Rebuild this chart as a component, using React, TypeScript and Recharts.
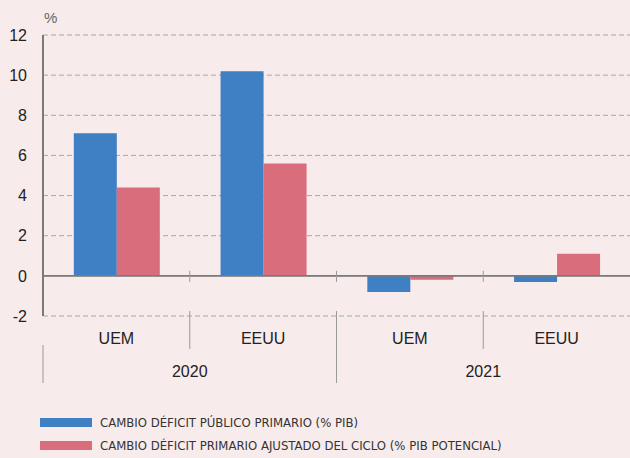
import { Bar, BarChart, CartesianGrid, Legend, ReferenceLine, XAxis, YAxis } from 'recharts';

const categories = ['UEM', 'EEUU', 'UEM', 'EEUU'];
const years = ['2020', '2020', '2021', '2021'];
const publico = [7.1, 10.2, -0.8, -0.3];
const ajustado = [4.4, 5.6, -0.2, 1.1];
const yTicks = [-2, 0, 2, 4, 6, 8, 10, 12];
const seriesNames = [
  'CAMBIO DÉFICIT PÚBLICO PRIMARIO (% PIB)',
  'CAMBIO DÉFICIT PRIMARIO AJUSTADO DEL CICLO (% PIB POTENCIAL)',
];

const W = 630;
const H = 458;
const Y_W = 43;
const BAND = (W - Y_W) / categories.length;
const BLUE = '#3f7fc4';
const PINK = '#d96d7c';
const BG = '#f8ebeb';
const SEP = '#9a9a9a';
const FONT = '"Liberation Sans", Arial, sans-serif';

const data = categories.map((c, i) => ({
  id: `${c}-${years[i]}`,
  cat: c,
  year: years[i],
  publico: publico[i],
  ajustado: ajustado[i],
}));

function CatTick({ x, y, index }: any) {
  const right = x + BAND / 2;
  const last = index >= categories.length - 1;
  const yearEdge = !last && years[index + 1] !== years[index];
  return (
    <g>
      <text x={x} y={y + 28} textAnchor="middle" fontSize={16} fill="#222" fontFamily={FONT}>
        {categories[index]}
      </text>
      {!last && (
        <line x1={right} x2={right} y1={y - 5} y2={yearEdge ? y + 67 : y + 33} stroke={SEP} strokeWidth={1} />
      )}
    </g>
  );
}

function YearTick({ x, y, index }: any) {
  const first = index === 0 || years[index - 1] !== years[index];
  if (!first) return null;
  const count = years.filter((yr) => yr === years[index]).length;
  const cx = x + ((count - 1) * BAND) / 2;
  return (
    <g>
      <text x={cx} y={y + 31} textAnchor="middle" fontSize={16} fill="#222" fontFamily={FONT}>
        {years[index]}
      </text>
      {index === 0 && (
        <line x1={x - BAND / 2} x2={x - BAND / 2} y1={y - 1} y2={y + 37} stroke={SEP} strokeWidth={1} />
      )}
    </g>
  );
}

function ZeroLine(props: any) {
  const { x1, x2, y1 } = props;
  const marks = categories.slice(1).map((_, k) => x1 + (k + 1) * BAND);
  return (
    <g>
      <line x1={x1} x2={x2} y1={y1} y2={y1} stroke="#7a7a7a" strokeWidth={1.6} />
      {marks.map((mx) => (
        <line key={mx} x1={mx} x2={mx} y1={y1 - 5} y2={y1 + 6} stroke={SEP} strokeWidth={1} />
      ))}
    </g>
  );
}

function LegendBox() {
  const colors = [BLUE, PINK];
  return (
    <div style={{ fontFamily: '"Liberation Sans Narrow", "DejaVu Sans Condensed", sans-serif' }}>
      {seriesNames.map((name, i) => (
        <div key={name} style={{ display: 'flex', alignItems: 'center', height: 23 }}>
          <div style={{ width: 52, height: 9, background: colors[i], marginRight: 8 }} />
          <span style={{ fontSize: 13, color: '#333' }}>{name}</span>
        </div>
      ))}
    </div>
  );
}

export default function App() {
  return (
    <div style={{ position: 'absolute', left: 0, top: 0, width: W, height: H, background: BG, overflow: 'hidden' }}>
      <div
        style={{
          position: 'absolute',
          left: 44,
          top: 10,
          fontSize: 15,
          lineHeight: '15px',
          color: '#666',
          fontFamily: FONT,
        }}
      >
        %
      </div>
      <BarChart
        width={W}
        height={H}
        data={data}
        margin={{ top: 35, right: 0, left: 0, bottom: 75 }}
        barGap={0}
        barCategoryGap="21%"
      >
        <CartesianGrid stroke="#a8a8a8" strokeDasharray="5 3" vertical={false} />
        <XAxis
          dataKey="id"
          height={30}
          axisLine={false}
          tickLine={false}
          tickSize={0}
          tickMargin={0}
          interval={0}
          tick={<CatTick />}
        />
        <XAxis
          xAxisId="year"
          dataKey="id"
          height={37}
          axisLine={false}
          tickLine={false}
          tickSize={0}
          tickMargin={0}
          interval={0}
          tick={<YearTick />}
        />
        <YAxis
          width={Y_W}
          domain={[-2, 12]}
          ticks={yTicks}
          interval={0}
          tickLine={false}
          tickSize={0}
          tickMargin={16}
          axisLine={{ stroke: '#7a7a7a', strokeWidth: 2 }}
          tick={{ fontSize: 16, fill: '#222', fontFamily: FONT }}
        />
        <Legend
          layout="vertical"
          align="center"
          verticalAlign="middle"
          wrapperStyle={{ left: 40, top: 411, width: 560 }}
          content={<LegendBox />}
        />
        <Bar dataKey="publico" name={seriesNames[0]} fill={BLUE} isAnimationActive={false} />
        <Bar dataKey="ajustado" name={seriesNames[1]} fill={PINK} isAnimationActive={false} />
        <ReferenceLine y={0} shape={<ZeroLine />} />
      </BarChart>
    </div>
  );
}
